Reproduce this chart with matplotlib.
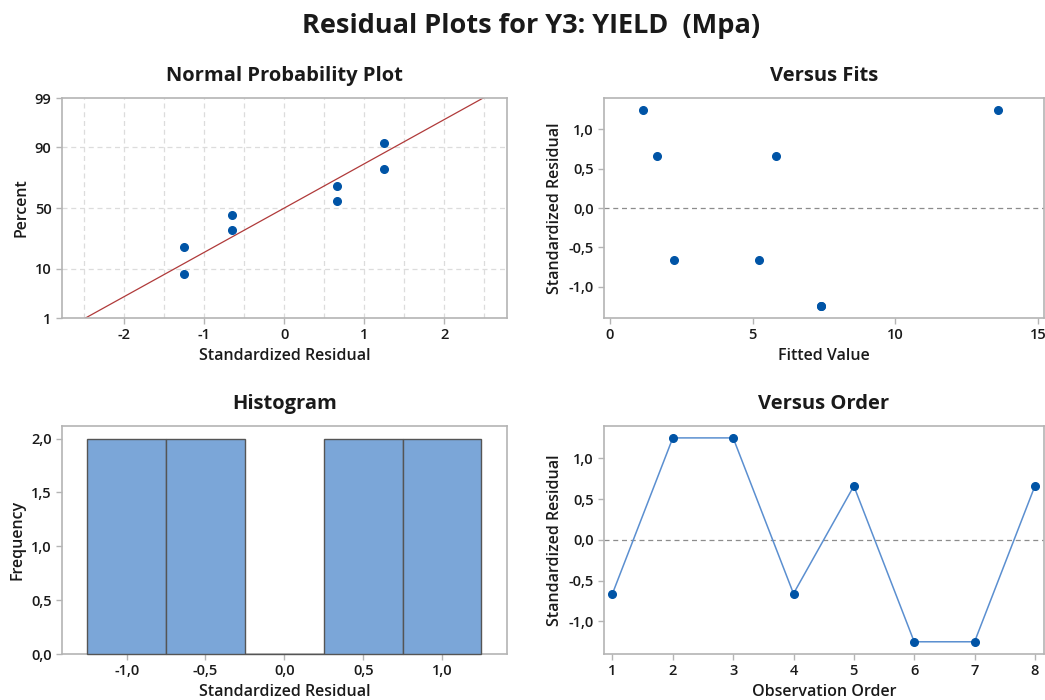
import matplotlib
matplotlib.use("Agg")
import matplotlib.pyplot as plt
import numpy as np
from statistics import NormalDist

plt.rcParams['font.family'] = ['Open Sans', 'DejaVu Sans']
plt.rcParams['axes.unicode_minus'] = False

# residuos padronizados por ordem de observação
order = [1, 2, 3, 4, 5, 6, 7, 8]
resid = [-0.66, 1.25, 1.25, -0.66, 0.66, -1.25, -1.25, 0.66]
fitted = [2.26, 1.16, 13.6, 5.22, 5.82, 7.40, 7.40, 1.64]

# gráfico de probabilidade normal (valores lidos)
prob_resid = [-1.25, -1.25, -0.66, -0.66, 0.66, 0.66, 1.25, 1.25]
prob_pct = [8.3, 20.2, 32.1, 44.0, 56.0, 67.9, 79.8, 91.7]
pct_ticks = [1, 10, 50, 90, 99]

# histograma
bin_centers = [-1.0, -0.5, 0.0, 0.5, 1.0]
bin_counts = [2, 2, 0, 2, 2]

PT = '#0054A6'
LN = '#5B8FD0'
BAR = '#7BA6D8'
SP = '#B4B4B4'
TXT = '#1A1A1A'

nd = NormalDist()


def style_ax(ax):
    for s in ax.spines.values():
        s.set_color(SP)
        s.set_linewidth(1.2)
    ax.tick_params(colors=SP, labelcolor=TXT, labelsize=10.5, length=4, width=1)
    for lab in ax.get_xticklabels() + ax.get_yticklabels():
        lab.set_fontweight('semibold')


def comma(v, pos=None):
    return f"{v:.1f}".replace('.', ',')


def titles(ax, title, xlabel, ylabel):
    ax.set_title(title, fontsize=14.5, fontweight='bold', color=TXT, pad=12)
    ax.set_xlabel(xlabel, fontsize=11.5, fontweight='semibold', color=TXT)
    ax.set_ylabel(ylabel, fontsize=11.5, fontweight='semibold', color=TXT)


fig = plt.figure(figsize=(10.45, 7.0), dpi=100)
fig.text(0.508, 0.963, 'Residual Plots for Y3: YIELD  (Mpa)', ha='center', va='center',
         fontsize=19.5, fontweight='bold', color=TXT)

ax1 = fig.add_axes([0.0593, 0.5457, 0.4256, 0.3143])
ax2 = fig.add_axes([0.578, 0.5457, 0.421, 0.3143])
ax3 = fig.add_axes([0.0593, 0.0657, 0.4256, 0.3262])
ax4 = fig.add_axes([0.578, 0.0657, 0.421, 0.3262])

# --- Normal Probability Plot ---
z_lo, z_hi = nd.inv_cdf(0.01), nd.inv_cdf(0.99)
ax1.set_xlim(-2.78, 2.78)
ax1.set_ylim(z_lo, z_hi)
for gx in np.arange(-2.5, 2.51, 0.5):
    ax1.axvline(gx, color='#DCDCDC', lw=0.9, ls=(0, (4, 3)), zorder=0)
for p in [10, 50, 90]:
    ax1.axhline(nd.inv_cdf(p / 100), color='#DCDCDC', lw=0.9, ls=(0, (4, 3)), zorder=0)
mu = np.mean(resid)
sd = np.std(resid, ddof=1)
xl = np.array([-3.0, 3.0])
ax1.plot(xl, (xl - mu) / sd, color='#B03A3A', lw=0.9, zorder=2)
ax1.plot(prob_resid, [nd.inv_cdf(p / 100) for p in prob_pct], 'o', color=PT,
         ms=5.5, zorder=3)
ax1.set_yticks([nd.inv_cdf(p / 100) for p in pct_ticks])
ax1.set_yticklabels([str(p) for p in pct_ticks])
ax1.set_xticks([-2, -1, 0, 1, 2])
titles(ax1, 'Normal Probability Plot', 'Standardized Residual', 'Percent')
style_ax(ax1)

# --- Versus Fits ---
ax2.axhline(0, color='#8C8C8C', lw=0.9, ls=(0, (4, 3)), zorder=0)
ax2.plot(fitted, resid, 'o', color=PT, ms=5.5)
ax2.set_xlim(-0.2, 15.2)
ax2.set_ylim(-1.4, 1.4)
ax2.set_xticks([0, 5, 10, 15])
ax2.set_yticks([-1.0, -0.5, 0.0, 0.5, 1.0])
ax2.yaxis.set_major_formatter(plt.FuncFormatter(comma))
titles(ax2, 'Versus Fits', 'Fitted Value', 'Standardized Residual')
style_ax(ax2)

# --- Histogram ---
bars = ax3.bar(bin_centers, bin_counts, width=0.5, color=BAR, edgecolor='#555555',
               linewidth=1.0, zorder=3)
for b in bars:
    b.set_clip_on(False)
ax3.set_xlim(-1.41, 1.41)
ax3.set_ylim(0, 2.12)
ax3.set_xticks(bin_centers)
ax3.set_yticks([0.0, 0.5, 1.0, 1.5, 2.0])
ax3.xaxis.set_major_formatter(plt.FuncFormatter(comma))
ax3.yaxis.set_major_formatter(plt.FuncFormatter(comma))
titles(ax3, 'Histogram', 'Standardized Residual', 'Frequency')
style_ax(ax3)

# --- Versus Order ---
ax4.axhline(0, color='#8C8C8C', lw=0.9, ls=(0, (4, 3)), zorder=0)
ax4.plot(order, resid, '-', color=LN, lw=1.1, zorder=2)
ax4.plot(order, resid, 'o', color=PT, ms=5.5, zorder=3)
ax4.set_xlim(0.86, 8.15)
ax4.set_ylim(-1.4, 1.4)
ax4.set_xticks(order)
ax4.set_yticks([-1.0, -0.5, 0.0, 0.5, 1.0])
ax4.yaxis.set_major_formatter(plt.FuncFormatter(comma))
titles(ax4, 'Versus Order', 'Observation Order', 'Standardized Residual')
style_ax(ax4)

plt.savefig('out.png', dpi=100)
plt.close()
